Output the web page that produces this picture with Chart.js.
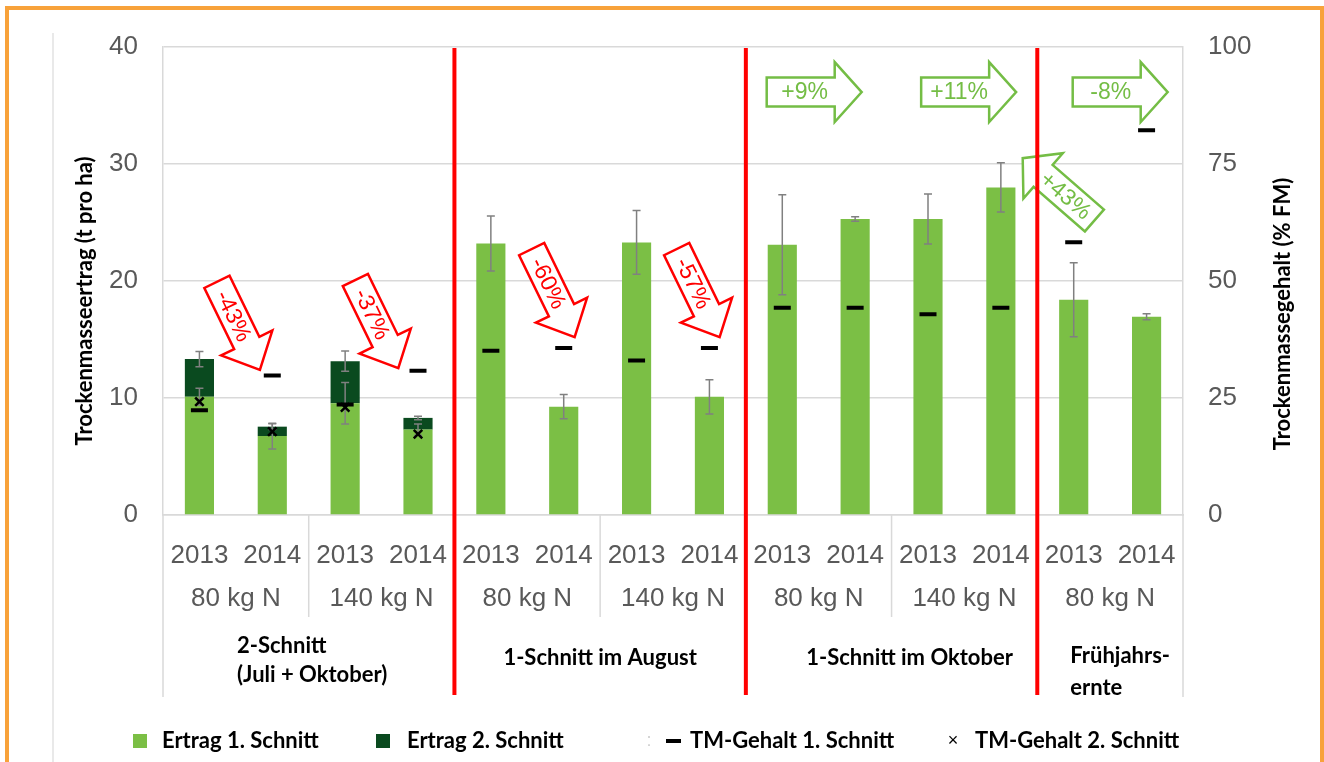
<!DOCTYPE html>
<html>
<head>
<meta charset="utf-8">
<script src="https://cdn.jsdelivr.net/npm/chart.js@4.4.1/dist/chart.umd.min.js"></script>
<style>
  html, body { margin: 0; padding: 0; background: #fff; }
  #wrap { position: relative; width: 1324px; height: 762px; overflow: hidden; }
  #wrap canvas { position: absolute; left: 0; top: 0; }
  #frame { position: absolute; left: 5px; top: 6px; width: 1319px; height: 800px;
           border: 4px solid #f8a23a; box-sizing: border-box; pointer-events: none; }
</style>
</head>
<body>
<div id="wrap">
  <canvas id="chart" width="1324" height="762"></canvas>
  <div id="frame"></div>
</div>
<script>
// --- data ---
const years = ['2013', '2014', '2013', '2014', '2013', '2014', '2013', '2014',
               '2013', '2014', '2013', '2014', '2013', '2014'];
const nitrogenLabels = ['80 kg N', '140 kg N', '80 kg N', '140 kg N', '80 kg N', '140 kg N', '80 kg N'];
const groupLabels = [['2-Schnitt', '(Juli + Oktober)'], ['1-Schnitt im August'],
                     ['1-Schnitt im Oktober'], ['Frühjahrs-', 'ernte']];
const groupSizes = [4, 4, 4, 2];

// Trockenmasseertrag (t pro ha)
const ertrag1 = [10.1, 6.75, 9.55, 7.3, 23.2, 9.26, 23.3, 10.1, 23.1, 25.3, 25.3, 28.0, 18.4, 16.95];
const ertrag2 = [3.23, 0.8, 3.6, 1.0, null, null, null, null, null, null, null, null, null, null];
const fehler1 = [0.73, 1.1, 1.77, 0.48, 2.35, 1.04, 2.73, 1.47, 4.27, 0.2, 2.14, 2.1, 3.16, 0.26];
const fehler2 = [0.65, 0.25, 0.87, 0.15, null, null, null, null, null, null, null, null, null, null];

// Trockenmassegehalt (% FM)
const tmGehalt1 = [22.4, 29.8, 23.6, 30.8, 35.1, 35.7, 33.0, 35.7, 44.3, 44.3, 42.9, 44.3, 58.3, 82.2];
const tmGehalt2 = [24.2, 17.8, 23.0, 17.3, null, null, null, null, null, null, null, null, null, null];

const leftTicks = [0, 10, 20, 30, 40];
const rightTicks = [0, 25, 50, 75, 100];

// change arrows: tip given as (category index, left-axis value)
const arrows = [
  { text: '-43%', at: 0.83, val: 12.4, angle: 64, kind: 'down' },
  { text: '-37%', at: 2.73, val: 12.56, angle: 64, kind: 'down' },
  { text: '-60%', at: 5.15, val: 15.2, angle: 64, kind: 'down' },
  { text: '-57%', at: 7.14, val: 15.2, angle: 64, kind: 'down' },
  { text: '+9%', at: 9.09, val: 36.15, angle: 0, kind: 'up' },
  { text: '+11%', at: 11.21, val: 36.15, angle: 0, kind: 'up' },
  { text: '-8%', at: 13.29, val: 36.15, angle: 0, kind: 'up' },
  { text: '+43%', at: 11.3, val: 30.5, angle: -139, kind: 'up', flip: true }
];

const LIGHT = '#7bbf45';
const DARK = '#0a4a1f';
const RED = '#ff0000';
const GREEN_ARROW = '#74bd45';
const GRID = '#d9d9d9';
const TICK = '#595959';
const BOLD_FONT = 'bold 22px Lato';

function drawArrow(ctx, a, x, y) {
  const red = a.kind === 'down';
  const L = red ? 98 : 95, sw = red ? 28 : 29, hw = red ? 57 : 60, hl = red ? 30 : 27;
  ctx.save();
  ctx.translate(x, y);
  ctx.rotate(a.angle * Math.PI / 180);
  ctx.beginPath();
  ctx.moveTo(0, 0);
  ctx.lineTo(-hl, -hw / 2);
  ctx.lineTo(-hl, -sw / 2);
  ctx.lineTo(-L, -sw / 2);
  ctx.lineTo(-L, sw / 2);
  ctx.lineTo(-hl, sw / 2);
  ctx.lineTo(-hl, hw / 2);
  ctx.closePath();
  ctx.fillStyle = '#fff';
  ctx.fill();
  ctx.lineWidth = 2.5;
  ctx.lineJoin = 'miter';
  ctx.strokeStyle = red ? RED : GREEN_ARROW;
  ctx.stroke();
  ctx.translate(-(L + hl) / 2 + 4, 0);
  if (a.flip) ctx.rotate(Math.PI);
  ctx.fillStyle = red ? RED : GREEN_ARROW;
  ctx.font = (red ? '23px' : '23px') + ' "Liberation Sans"';
  ctx.textAlign = 'center';
  ctx.textBaseline = 'middle';
  ctx.fillText(a.text, 0, 1);
  ctx.restore();
}

const decorations = {
  id: 'decorations',
  afterDatasetDraw(chart, args) {
    if (args.index !== 0) return;
    const ctx = chart.ctx, xs = chart.scales.x, ys = chart.scales.y;
    ctx.save();
    ctx.strokeStyle = '#808080';
    ctx.lineWidth = 1.5;
    const bar = (x, v, e) => {
      const t = ys.getPixelForValue(v + e), b = ys.getPixelForValue(v - e);
      ctx.beginPath();
      ctx.moveTo(x, t); ctx.lineTo(x, b);
      ctx.moveTo(x - 4, t); ctx.lineTo(x + 4, t);
      ctx.moveTo(x - 4, b); ctx.lineTo(x + 4, b);
      ctx.stroke();
    };
    years.forEach((_, i) => {
      const x = xs.getPixelForValue(i);
      bar(x, ertrag1[i], fehler1[i]);
      if (ertrag2[i] != null) bar(x, ertrag1[i] + ertrag2[i], fehler2[i]);
    });
    ctx.restore();
  },
  afterDraw(chart) {
    const ctx = chart.ctx, xs = chart.scales.x, ys = chart.scales.y;
    const area = chart.chartArea;
    const step = (area.right - area.left) / years.length;
    const edge = k => area.left + k * step;
    ctx.save();

    // faint frame line on the left
    ctx.strokeStyle = '#e2e2e2';
    ctx.lineWidth = 1.5;
    ctx.beginPath(); ctx.moveTo(53, 33); ctx.lineTo(53, 762); ctx.stroke();

    // nitrogen tier
    ctx.fillStyle = TICK;
    ctx.font = '26px "Liberation Sans"';
    ctx.textAlign = 'center';
    ctx.textBaseline = 'middle';
    nitrogenLabels.forEach((lab, j) => {
      ctx.fillText(lab, (xs.getPixelForValue(2 * j) + xs.getPixelForValue(2 * j + 1)) / 2, 599);
    });

    // separators below the axis
    ctx.strokeStyle = GRID;
    ctx.lineWidth = 1.5;
    [2, 6, 10].forEach(k => {
      ctx.beginPath(); ctx.moveTo(edge(k), area.bottom); ctx.lineTo(edge(k), 617); ctx.stroke();
    });
    [0, years.length].forEach(k => {
      ctx.beginPath(); ctx.moveTo(edge(k), area.bottom); ctx.lineTo(edge(k), 697); ctx.stroke();
    });

    // group labels
    ctx.fillStyle = '#000';
    ctx.font = BOLD_FONT;
    let start = 0;
    const starts = groupSizes.map(n => { const s = start; start += n; return s; });
    ctx.textAlign = 'left';
    ctx.fillText(groupLabels[0][0], edge(starts[0]) + 74, 646);
    ctx.fillText(groupLabels[0][1], edge(starts[0]) + 74, 675);
    ctx.textAlign = 'center';
    ctx.fillText(groupLabels[1][0], (edge(starts[1]) + edge(starts[2])) / 2, 658);
    ctx.fillText(groupLabels[2][0], (edge(starts[2]) + edge(starts[3])) / 2 + 18, 658);
    ctx.textAlign = 'left';
    ctx.fillText(groupLabels[3][0], edge(starts[3]) + 33, 656);
    ctx.fillText(groupLabels[3][1], edge(starts[3]) + 33, 688);

    // axis titles
    ctx.save();
    ctx.translate(85, 301); ctx.rotate(-Math.PI / 2);
    ctx.textAlign = 'center';
    ctx.fillText('Trockenmasseertrag (t pro ha)', 0, 0);
    ctx.restore();
    ctx.save();
    ctx.translate(1283, 314); ctx.rotate(-Math.PI / 2);
    ctx.textAlign = 'center';
    ctx.fillText('Trockenmassegehalt (% FM)', 0, 0);
    ctx.restore();

    // arrows
    arrows.forEach(a => drawArrow(ctx, a, xs.getPixelForValue(a.at), ys.getPixelForValue(a.val)));

    // red group dividers
    ctx.strokeStyle = RED;
    ctx.lineWidth = 4;
    starts.slice(1).forEach(k => {
      ctx.beginPath(); ctx.moveTo(edge(k), area.top + 1); ctx.lineTo(edge(k), 695); ctx.stroke();
    });

    // legend
    const ly = 741;
    ctx.font = BOLD_FONT;
    ctx.textAlign = 'left';
    ctx.textBaseline = 'middle';
    ctx.fillStyle = LIGHT; ctx.fillRect(133, ly - 7, 14, 14);
    ctx.fillStyle = DARK; ctx.fillRect(376, ly - 7, 14, 14);
    ctx.fillStyle = '#000';
    ctx.fillText('Ertrag 1. Schnitt', 162, ly);
    ctx.fillText('Ertrag 2. Schnitt', 407, ly);
    ctx.fillRect(666, ly - 2, 15, 4);
    ctx.fillText('TM-Gehalt 1. Schnitt', 690, ly);
    ctx.fillText('TM-Gehalt 2. Schnitt', 975, ly);
    ctx.font = '18px "Liberation Sans"';
    ctx.textAlign = 'center';
    ctx.fillText('×', 953, ly);
    ctx.fillStyle = '#d0d0d0';
    ctx.fillText(':', 649, ly);
    ctx.restore();
  }
};

new Chart(document.getElementById('chart'), {
  type: 'bar',
  data: {
    labels: years,
    datasets: [
      { label: 'Ertrag 1. Schnitt', data: ertrag1, backgroundColor: LIGHT, stack: 's', order: 2,
        categoryPercentage: 1, barPercentage: 0.4 },
      { label: 'Ertrag 2. Schnitt', data: ertrag2, backgroundColor: DARK, stack: 's', order: 3,
        categoryPercentage: 1, barPercentage: 0.4 },
      { type: 'line', label: 'TM-Gehalt 1. Schnitt', data: tmGehalt1, yAxisID: 'y1', showLine: false,
        pointStyle: 'line', pointRadius: 8.5, pointBorderWidth: 4, borderColor: '#000',
        backgroundColor: '#000', order: 0 },
      { type: 'line', label: 'TM-Gehalt 2. Schnitt', data: tmGehalt2, yAxisID: 'y1', showLine: false,
        pointStyle: 'crossRot', pointRadius: 6, pointBorderWidth: 2.5, borderColor: '#000',
        backgroundColor: '#000', order: 0 }
    ]
  },
  options: {
    responsive: false,
    animation: false,
    devicePixelRatio: 1,
    layout: { padding: { top: 47, left: 0, right: 0, bottom: 177 } },
    plugins: { legend: { display: false }, tooltip: { enabled: false } },
    scales: {
      x: {
        stacked: true,
        grid: { display: false },
        border: { display: true, color: GRID, width: 1.5 },
        ticks: { font: { family: 'Liberation Sans', size: 26 }, color: TICK, padding: 17,
                 maxRotation: 0, autoSkip: false },
        afterFit(scale) { scale.height = 70; }
      },
      y: {
        stacked: true,
        min: leftTicks[0], max: leftTicks[leftTicks.length - 1],
        afterBuildTicks(scale) { scale.ticks = leftTicks.map(v => ({ value: v })); },
        grid: { color: GRID, lineWidth: 1.5, drawTicks: false },
        border: { display: true, color: GRID, width: 1.5 },
        ticks: { font: { family: 'Liberation Sans', size: 26 }, color: TICK, padding: 25 },
        afterFit(scale) { scale.width = 163; }
      },
      y1: {
        position: 'right',
        min: rightTicks[0], max: rightTicks[rightTicks.length - 1],
        afterBuildTicks(scale) { scale.ticks = rightTicks.map(v => ({ value: v })); },
        grid: { display: false, drawTicks: false },
        border: { display: true, color: GRID, width: 1.5 },
        ticks: { font: { family: 'Liberation Sans', size: 26 }, color: TICK, padding: 25 },
        afterFit(scale) { scale.width = 141; }
      }
    }
  },
  plugins: [decorations]
});
</script>
</body>
</html>
